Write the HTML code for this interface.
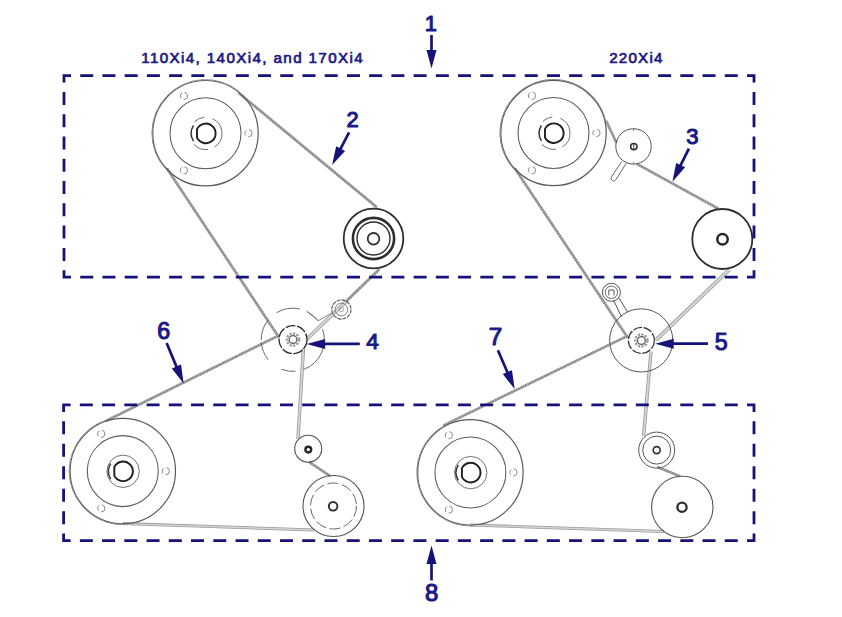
<!DOCTYPE html>
<html><head><meta charset="utf-8"><style>
html,body{margin:0;padding:0;background:#fff;}
body{width:842px;height:617px;overflow:hidden;}
svg{display:block;font-family:"Liberation Sans",sans-serif;}
</style></head><body>
<svg width="842" height="617" viewBox="0 0 842 617">
<rect width="842" height="617" fill="#fff"/>
<text x="141.2" y="63.2" font-size="15.2" font-weight="normal" text-anchor="start" fill="#1b1a86" textLength="221.5" lengthAdjust="spacing" stroke="#1b1a86" stroke-width="0.7" stroke-linejoin="round">110Xi4, 140Xi4, and 170Xi4</text>
<text x="609.2" y="62.8" font-size="15.2" font-weight="normal" text-anchor="start" fill="#1b1a86" textLength="53.2" lengthAdjust="spacing" stroke="#1b1a86" stroke-width="0.7" stroke-linejoin="round">220Xi4</text>
<line x1="238.5" y1="92.8" x2="377" y2="207.4" stroke="#a8a8a8" stroke-width="2.7" />
<line x1="238.5" y1="92.8" x2="377" y2="207.4" stroke="#858585" stroke-width="2.3000000000000003" stroke-dasharray="1.2 1.4"/>
<line x1="166.9" y1="168.5" x2="279.2" y2="337.7" stroke="#a8a8a8" stroke-width="2.7" />
<line x1="166.9" y1="168.5" x2="279.2" y2="337.7" stroke="#858585" stroke-width="2.3000000000000003" stroke-dasharray="1.2 1.4"/>
<line x1="379.1" y1="269.5" x2="345.5" y2="302" stroke="#a8a8a8" stroke-width="3.0" />
<line x1="379.1" y1="269.5" x2="345.5" y2="302" stroke="#858585" stroke-width="2.6" stroke-dasharray="1.2 1.4"/>
<line x1="345.5" y1="302" x2="307" y2="339" stroke="#9a9a9a" stroke-width="3.8" />
<line x1="345.5" y1="302" x2="307" y2="339" stroke="#d6d6d6" stroke-width="2.1999999999999997" />
<line x1="106.4" y1="420.7" x2="277.6" y2="336.1" stroke="#a8a8a8" stroke-width="2.7" />
<line x1="106.4" y1="420.7" x2="277.6" y2="336.1" stroke="#858585" stroke-width="2.3000000000000003" stroke-dasharray="1.2 1.4"/>
<line x1="303.4" y1="348.9" x2="298" y2="438.9" stroke="#9a9a9a" stroke-width="3.4" />
<line x1="303.4" y1="348.9" x2="298" y2="438.9" stroke="#d6d6d6" stroke-width="1.7999999999999998" />
<line x1="309" y1="461.8" x2="330.6" y2="476.4" stroke="#a8a8a8" stroke-width="2.7" />
<line x1="309" y1="461.8" x2="330.6" y2="476.4" stroke="#858585" stroke-width="2.3000000000000003" stroke-dasharray="1.2 1.4"/>
<line x1="122.8" y1="523.6" x2="313.8" y2="530" stroke="#9a9a9a" stroke-width="3.0" />
<line x1="122.8" y1="523.6" x2="313.8" y2="530" stroke="#d6d6d6" stroke-width="1.4" />
<circle cx="205.5" cy="133.2" r="52.7" fill="none" stroke="#5a5a5a" stroke-width="1.2" />
<circle cx="205.5" cy="133.2" r="35.5" fill="none" stroke="#5a5a5a" stroke-width="1.05" />
<path d="M204.39 117.26A16.2 16.2 0 0 0 194.55 121.75" fill="none" stroke="#6a6a6a" stroke-width="0.95" />
<path d="M214.38 147.14A16.2 16.2 0 0 0 212.39 118.6" fill="none" stroke="#6a6a6a" stroke-width="0.95" />
<path d="M193.95 144.45A16.2 16.2 0 0 0 208.05 149.44" fill="none" stroke="#6a6a6a" stroke-width="0.95" />
<path d="M193.42 125.66A14.6 14.6 0 0 0 193.42 141.14" fill="none" stroke="#333" stroke-width="1.5" />
<path d="M197 129.1A9.8 9.8 0 1 1 197 137.7Z" fill="none" stroke="#1e1e1e" stroke-width="1.9" stroke-linejoin="round"/>
<circle cx="248.5" cy="133.2" r="3.6" fill="none" stroke="#8a8a8a" stroke-width="1.0" stroke-dasharray="6 2.5"/>
<circle cx="184" cy="95.96" r="3.6" fill="none" stroke="#8a8a8a" stroke-width="1.0" stroke-dasharray="6 2.5"/>
<circle cx="184" cy="170.44" r="3.6" fill="none" stroke="#8a8a8a" stroke-width="1.0" stroke-dasharray="6 2.5"/>
<path d="M239.23 91.54A53.6 53.6 0 0 0 165.67 169.07" fill="none" stroke="#8c8c8c" stroke-width="1.0" />
<circle cx="122.8" cy="471.1" r="52.7" fill="none" stroke="#5a5a5a" stroke-width="1.2" />
<circle cx="122.8" cy="471.1" r="35.5" fill="none" stroke="#5a5a5a" stroke-width="1.05" />
<circle cx="123.1" cy="471.3" r="16.2" fill="none" stroke="#6a6a6a" stroke-width="0.95" />
<path d="M110.72 463.56A14.6 14.6 0 0 0 110.72 479.04" fill="none" stroke="#333" stroke-width="1.5" />
<path d="M114.3 467A9.8 9.8 0 1 1 114.3 475.6Z" fill="none" stroke="#1e1e1e" stroke-width="1.9" stroke-linejoin="round"/>
<circle cx="165.8" cy="471.1" r="3.6" fill="none" stroke="#8a8a8a" stroke-width="1.0" stroke-dasharray="6 2.5"/>
<circle cx="101.3" cy="433.86" r="3.6" fill="none" stroke="#8a8a8a" stroke-width="1.0" stroke-dasharray="6 2.5"/>
<circle cx="101.3" cy="508.34" r="3.6" fill="none" stroke="#8a8a8a" stroke-width="1.0" stroke-dasharray="6 2.5"/>
<path d="M106.24 420.12A53.6 53.6 0 0 0 124.67 524.67" fill="none" stroke="#8c8c8c" stroke-width="1.0" />
<circle cx="373.5" cy="238.5" r="29.8" fill="none" stroke="#2e2e2e" stroke-width="1.8" />
<circle cx="373.5" cy="238.5" r="20.6" fill="none" stroke="#2e2e2e" stroke-width="2.6" />
<circle cx="373.5" cy="238.5" r="16.5" fill="none" stroke="#2e2e2e" stroke-width="1.4" />
<circle cx="373.5" cy="238.8" r="5.8" fill="none" stroke="#2e2e2e" stroke-width="1.8" />
<path d="M299.91 309.01A31.6 31.6 0 0 0 276.52 312.71" fill="none" stroke="#6a6a6a" stroke-width="1.0" />
<path d="M318.04 320.78A31.6 31.6 0 0 0 307.15 311.64" fill="none" stroke="#6a6a6a" stroke-width="1.0" />
<path d="M303.61 369.49A31.6 31.6 0 0 0 322.49 328.99" fill="none" stroke="#6a6a6a" stroke-width="1.0" />
<path d="M281.48 369.3A31.6 31.6 0 0 0 295.55 371.28" fill="none" stroke="#6a6a6a" stroke-width="1.0" />
<path d="M261.32 342.55A31.6 31.6 0 0 0 268.24 359.69" fill="none" stroke="#6a6a6a" stroke-width="1.0" />
<path d="M268.59 319.49A31.6 31.6 0 0 0 261.2 339.8" fill="none" stroke="#6a6a6a" stroke-width="1.0" />
<circle cx="293" cy="339.6" r="14" fill="none" stroke="#2a2a2a" stroke-width="1.35" stroke-dasharray="10 1.6"/>
<circle cx="293" cy="339.6" r="6.1" fill="none" stroke="#9a9a9a" stroke-width="2.4" stroke-dasharray="2.2 1.3"/>
<circle cx="293" cy="339.6" r="3.9" fill="none" stroke="#5a5a5a" stroke-width="1.3" />
<path d="M306.5 311 L318.2 320.7 L331 313.5" fill="none" stroke="#777" stroke-width="0.9"/>
<circle cx="341.4" cy="309.5" r="9.6" fill="none" stroke="#555" stroke-width="1.1" stroke-dasharray="4 1"/>
<circle cx="341.4" cy="309.5" r="6.3" fill="none" stroke="#777" stroke-width="0.9" />
<circle cx="341.4" cy="309.5" r="2.2" fill="none" stroke="#999" stroke-width="0.9" />
<circle cx="308.2" cy="448.7" r="13.5" fill="none" stroke="#555" stroke-width="1.1" />
<circle cx="308.3" cy="449.6" r="2.9" fill="none" stroke="#262626" stroke-width="2.4" />
<circle cx="333.5" cy="506" r="30.5" fill="none" stroke="#555" stroke-width="1.1" />
<circle cx="333.5" cy="506" r="23" fill="none" stroke="#666" stroke-width="1.0" stroke-dasharray="11 3.5"/>
<circle cx="333.1" cy="506.3" r="4.3" fill="none" stroke="#2a2a2a" stroke-width="1.9" />
<line x1="606.2" y1="121" x2="616.4" y2="142.7" stroke="#a8a8a8" stroke-width="2.7" />
<line x1="606.2" y1="121" x2="616.4" y2="142.7" stroke="#858585" stroke-width="2.3000000000000003" stroke-dasharray="1.2 1.4"/>
<line x1="636.8" y1="163.9" x2="718.5" y2="208.8" stroke="#a8a8a8" stroke-width="2.7" />
<line x1="636.8" y1="163.9" x2="718.5" y2="208.8" stroke="#858585" stroke-width="2.3000000000000003" stroke-dasharray="1.2 1.4"/>
<line x1="729.3" y1="269.6" x2="655.9" y2="340.2" stroke="#9a9a9a" stroke-width="3.8" />
<line x1="729.3" y1="269.6" x2="655.9" y2="340.2" stroke="#d6d6d6" stroke-width="2.1999999999999997" />
<line x1="514.9" y1="168.5" x2="627.7" y2="337.7" stroke="#a8a8a8" stroke-width="2.7" />
<line x1="514.9" y1="168.5" x2="627.7" y2="337.7" stroke="#858585" stroke-width="2.3000000000000003" stroke-dasharray="1.2 1.4"/>
<line x1="443.6" y1="425.4" x2="627.6" y2="335.9" stroke="#a8a8a8" stroke-width="2.7" />
<line x1="443.6" y1="425.4" x2="627.6" y2="335.9" stroke="#858585" stroke-width="2.3000000000000003" stroke-dasharray="1.2 1.4"/>
<line x1="651" y1="351.7" x2="643.6" y2="436" stroke="#9a9a9a" stroke-width="3.4" />
<line x1="651" y1="351.7" x2="643.6" y2="436" stroke="#d6d6d6" stroke-width="1.7999999999999998" />
<line x1="657.4" y1="466.9" x2="680" y2="476.2" stroke="#a8a8a8" stroke-width="2.7" />
<line x1="657.4" y1="466.9" x2="680" y2="476.2" stroke="#858585" stroke-width="2.3000000000000003" stroke-dasharray="1.2 1.4"/>
<line x1="470.4" y1="525" x2="664" y2="531.5" stroke="#9a9a9a" stroke-width="3.0" />
<line x1="470.4" y1="525" x2="664" y2="531.5" stroke="#d6d6d6" stroke-width="1.4" />
<circle cx="553.5" cy="133" r="52.7" fill="none" stroke="#5a5a5a" stroke-width="1.2" />
<circle cx="553.5" cy="133" r="35.5" fill="none" stroke="#5a5a5a" stroke-width="1.05" />
<path d="M552.39 117.06A16.2 16.2 0 0 0 542.55 121.55" fill="none" stroke="#6a6a6a" stroke-width="0.95" />
<path d="M562.38 146.94A16.2 16.2 0 0 0 560.39 118.4" fill="none" stroke="#6a6a6a" stroke-width="0.95" />
<path d="M541.95 144.25A16.2 16.2 0 0 0 556.05 149.24" fill="none" stroke="#6a6a6a" stroke-width="0.95" />
<path d="M541.42 125.46A14.6 14.6 0 0 0 541.42 140.94" fill="none" stroke="#333" stroke-width="1.5" />
<path d="M545 128.9A9.8 9.8 0 1 1 545 137.5Z" fill="none" stroke="#1e1e1e" stroke-width="1.9" stroke-linejoin="round"/>
<circle cx="596.5" cy="133" r="3.6" fill="none" stroke="#8a8a8a" stroke-width="1.0" stroke-dasharray="6 2.5"/>
<circle cx="532" cy="95.76" r="3.6" fill="none" stroke="#8a8a8a" stroke-width="1.0" stroke-dasharray="6 2.5"/>
<circle cx="532" cy="170.24" r="3.6" fill="none" stroke="#8a8a8a" stroke-width="1.0" stroke-dasharray="6 2.5"/>
<path d="M605.73 120.94A53.6 53.6 0 1 0 514.3 169.56" fill="none" stroke="#8c8c8c" stroke-width="1.0" />
<circle cx="470.4" cy="472.4" r="52.7" fill="none" stroke="#5a5a5a" stroke-width="1.2" />
<circle cx="470.4" cy="472.4" r="35.5" fill="none" stroke="#5a5a5a" stroke-width="1.05" />
<circle cx="470.7" cy="472.6" r="16.2" fill="none" stroke="#6a6a6a" stroke-width="0.95" />
<path d="M458.32 464.86A14.6 14.6 0 0 0 458.32 480.34" fill="none" stroke="#333" stroke-width="1.5" />
<path d="M461.9 468.3A9.8 9.8 0 1 1 461.9 476.9Z" fill="none" stroke="#1e1e1e" stroke-width="1.9" stroke-linejoin="round"/>
<circle cx="513.4" cy="472.4" r="3.6" fill="none" stroke="#8a8a8a" stroke-width="1.0" stroke-dasharray="6 2.5"/>
<circle cx="448.9" cy="435.16" r="3.6" fill="none" stroke="#8a8a8a" stroke-width="1.0" stroke-dasharray="6 2.5"/>
<circle cx="448.9" cy="509.64" r="3.6" fill="none" stroke="#8a8a8a" stroke-width="1.0" stroke-dasharray="6 2.5"/>
<path d="M444.41 425.52A53.6 53.6 0 0 0 472.27 525.97" fill="none" stroke="#8c8c8c" stroke-width="1.0" />
<circle cx="633.5" cy="146.4" r="17.7" fill="none" stroke="#555" stroke-width="1.0" />
<circle cx="633.8" cy="146.6" r="3.2" fill="none" stroke="#2e2e2e" stroke-width="1.5" />
<line x1="633.8" y1="143.6" x2="633.8" y2="149.6" stroke="#2e2e2e" stroke-width="0.9" />
<line x1="633.6" y1="128.7" x2="633.6" y2="131" stroke="#666" stroke-width="0.9" />
<line x1="633.6" y1="162" x2="633.6" y2="164.2" stroke="#666" stroke-width="0.9" />
<path d="M621.6 161.6 L611.5 176.9 A2.6 2.6 0 0 0 615.9 179.7 L626.2 163.4" fill="#fff" stroke="#666" stroke-width="1"/>
<circle cx="722.3" cy="239" r="30" fill="none" stroke="#2e2e2e" stroke-width="1.8" />
<circle cx="722.5" cy="239.2" r="5.2" fill="none" stroke="#262626" stroke-width="2.5" />
<circle cx="641.2" cy="340.4" r="31.6" fill="none" stroke="#555" stroke-width="1.0" />
<circle cx="641.4" cy="340.4" r="13" fill="none" stroke="#3a3a3a" stroke-width="1.3" stroke-dasharray="9 1.5"/>
<circle cx="641.4" cy="340.5" r="6.1" fill="none" stroke="#9a9a9a" stroke-width="2.4" stroke-dasharray="2.2 1.3"/>
<circle cx="641.4" cy="340.5" r="3.9" fill="none" stroke="#5a5a5a" stroke-width="1.3" />
<path d="M613.5 300 L621.5 317 M619 298 L627.5 312" stroke="#555" stroke-width="1"/>
<circle cx="611.4" cy="292.3" r="9" fill="none" stroke="#555" stroke-width="1.0" />
<circle cx="611.4" cy="292.3" r="6.2" fill="none" stroke="#666" stroke-width="1.0" />
<path d="M608.8 295.5 V290 H614 V295.5" fill="none" stroke="#555" stroke-width="1"/>
<circle cx="656.7" cy="450.1" r="18" fill="none" stroke="#555" stroke-width="1.0" />
<circle cx="656.7" cy="450.1" r="14" fill="none" stroke="#555" stroke-width="1.0" />
<circle cx="656.7" cy="450.1" r="3.5" fill="none" stroke="#2e2e2e" stroke-width="1.6" />
<circle cx="682.3" cy="507" r="30.7" fill="none" stroke="#555" stroke-width="1.1" />
<circle cx="682" cy="507.3" r="4.6" fill="none" stroke="#2e2e2e" stroke-width="2.3" />
<path d="M71 75.6H64V82.6M747 75.6H754V82.6M71 277.2H64V270.2M747 277.2H754V270.2M80.23 75.6H93.23M80.23 277.2H93.23M102.45 75.6H115.45M102.45 277.2H115.45M124.68 75.6H137.68M124.68 277.2H137.68M146.9 75.6H159.9M146.9 277.2H159.9M169.13 75.6H182.13M169.13 277.2H182.13M191.35 75.6H204.35M191.35 277.2H204.35M213.58 75.6H226.58M213.58 277.2H226.58M235.81 75.6H248.81M235.81 277.2H248.81M258.03 75.6H271.03M258.03 277.2H271.03M280.26 75.6H293.26M280.26 277.2H293.26M302.48 75.6H315.48M302.48 277.2H315.48M324.71 75.6H337.71M324.71 277.2H337.71M346.94 75.6H359.94M346.94 277.2H359.94M369.16 75.6H382.16M369.16 277.2H382.16M391.39 75.6H404.39M391.39 277.2H404.39M413.61 75.6H426.61M413.61 277.2H426.61M435.84 75.6H448.84M435.84 277.2H448.84M458.06 75.6H471.06M458.06 277.2H471.06M480.29 75.6H493.29M480.29 277.2H493.29M502.52 75.6H515.52M502.52 277.2H515.52M524.74 75.6H537.74M524.74 277.2H537.74M546.97 75.6H559.97M546.97 277.2H559.97M569.19 75.6H582.19M569.19 277.2H582.19M591.42 75.6H604.42M591.42 277.2H604.42M613.65 75.6H626.65M613.65 277.2H626.65M635.87 75.6H648.87M635.87 277.2H648.87M658.1 75.6H671.1M658.1 277.2H671.1M680.32 75.6H693.32M680.32 277.2H693.32M702.55 75.6H715.55M702.55 277.2H715.55M724.77 75.6H737.77M724.77 277.2H737.77M64 91.89V104.89M754 91.89V104.89M64 114.18V127.18M754 114.18V127.18M64 136.47V149.47M754 136.47V149.47M64 158.76V171.76M754 158.76V171.76M64 181.04V194.04M754 181.04V194.04M64 203.33V216.33M754 203.33V216.33M64 225.62V238.62M754 225.62V238.62M64 247.91V260.91M754 247.91V260.91" fill="none" stroke="#15127a" stroke-width="2.8" stroke-linejoin="miter" stroke-linecap="butt"/>
<path d="M70.6 404.9H63.6V411.9M747 404.9H754V411.9M70.6 540.6H63.6V533.6M747 540.6H754V533.6M79.84 404.9H92.84M79.84 540.6H92.84M102.08 404.9H115.08M102.08 540.6H115.08M124.32 404.9H137.32M124.32 540.6H137.32M146.55 404.9H159.55M146.55 540.6H159.55M168.79 404.9H181.79M168.79 540.6H181.79M191.03 404.9H204.03M191.03 540.6H204.03M213.27 404.9H226.27M213.27 540.6H226.27M235.51 404.9H248.51M235.51 540.6H248.51M257.75 404.9H270.75M257.75 540.6H270.75M279.99 404.9H292.99M279.99 540.6H292.99M302.23 404.9H315.23M302.23 540.6H315.23M324.46 404.9H337.46M324.46 540.6H337.46M346.7 404.9H359.7M346.7 540.6H359.7M368.94 404.9H381.94M368.94 540.6H381.94M391.18 404.9H404.18M391.18 540.6H404.18M413.42 404.9H426.42M413.42 540.6H426.42M435.66 404.9H448.66M435.66 540.6H448.66M457.9 404.9H470.9M457.9 540.6H470.9M480.14 404.9H493.14M480.14 540.6H493.14M502.37 404.9H515.37M502.37 540.6H515.37M524.61 404.9H537.61M524.61 540.6H537.61M546.85 404.9H559.85M546.85 540.6H559.85M569.09 404.9H582.09M569.09 540.6H582.09M591.33 404.9H604.33M591.33 540.6H604.33M613.57 404.9H626.57M613.57 540.6H626.57M635.81 404.9H648.81M635.81 540.6H648.81M658.05 404.9H671.05M658.05 540.6H671.05M680.28 404.9H693.28M680.28 540.6H693.28M702.52 404.9H715.52M702.52 540.6H715.52M724.76 404.9H737.76M724.76 540.6H737.76M63.6 421.35V434.35M754 421.35V434.35M63.6 443.8V456.8M754 443.8V456.8M63.6 466.25V479.25M754 466.25V479.25M63.6 488.7V501.7M754 488.7V501.7M63.6 511.15V524.15M754 511.15V524.15" fill="none" stroke="#15127a" stroke-width="2.8" stroke-linejoin="miter" stroke-linecap="butt"/>
<text x="424.75" y="30.57" font-size="21.83" fill="#1b1a86" stroke="#1b1a86" stroke-width="1.1" stroke-linejoin="round">1</text>
<line x1="431.5" y1="35" x2="431.5" y2="52" stroke="#15127a" stroke-width="2.7" />
<path d="M431.5 68.5L426.5 50L436.5 50Z" fill="#15127a"/>
<text x="346.4" y="126.57" font-size="21.81" fill="#1b1a86" stroke="#1b1a86" stroke-width="1.1" stroke-linejoin="round">2</text>
<line x1="349.1" y1="132.3" x2="339.69" y2="150.45" stroke="#15127a" stroke-width="2.7" />
<path d="M332.1 165.1L336.17 146.37L345.05 150.98Z" fill="#15127a"/>
<text x="686.29" y="143.75" font-size="22.07" fill="#1b1a86" stroke="#1b1a86" stroke-width="1.1" stroke-linejoin="round">3</text>
<line x1="688.9" y1="148.6" x2="679.76" y2="166.93" stroke="#15127a" stroke-width="2.7" />
<path d="M672.4 181.7L676.18 162.91L685.13 167.37Z" fill="#15127a"/>
<line x1="359.8" y1="343.9" x2="323.1" y2="343.9" stroke="#15127a" stroke-width="2.7" />
<path d="M306.6 343.9L325.1 338.9L325.1 348.9Z" fill="#15127a"/>
<text x="366.26" y="349.07" font-size="22.56" fill="#1b1a86" stroke="#1b1a86" stroke-width="1.1" stroke-linejoin="round">4</text>
<line x1="708" y1="343.7" x2="671.7" y2="343.7" stroke="#15127a" stroke-width="2.7" />
<path d="M655.2 343.7L673.7 338.7L673.7 348.7Z" fill="#15127a"/>
<text x="714.77" y="349.54" font-size="23.24" fill="#1b1a86" stroke="#1b1a86" stroke-width="1.1" stroke-linejoin="round">5</text>
<text x="157.18" y="339.24" font-size="23.2" fill="#1b1a86" stroke="#1b1a86" stroke-width="1.1" stroke-linejoin="round">6</text>
<line x1="166.6" y1="343.1" x2="177.21" y2="368.39" stroke="#15127a" stroke-width="2.7" />
<path d="M183.6 383.6L171.83 368.48L181.05 364.61Z" fill="#15127a"/>
<text x="488.84" y="345.27" font-size="24.31" fill="#1b1a86" stroke="#1b1a86" stroke-width="1.1" stroke-linejoin="round">7</text>
<line x1="497.9" y1="350.2" x2="508.16" y2="373.95" stroke="#15127a" stroke-width="2.7" />
<path d="M514.7 389.1L502.77 374.1L511.96 370.13Z" fill="#15127a"/>
<line x1="431.5" y1="580.4" x2="431.5" y2="562.1" stroke="#15127a" stroke-width="2.7" />
<path d="M431.5 545.6L436.5 564.1L426.5 564.1Z" fill="#15127a"/>
<text x="424.92" y="601.03" font-size="23.9" fill="#1b1a86" stroke="#1b1a86" stroke-width="1.1" stroke-linejoin="round">8</text>
</svg>
</body></html>
